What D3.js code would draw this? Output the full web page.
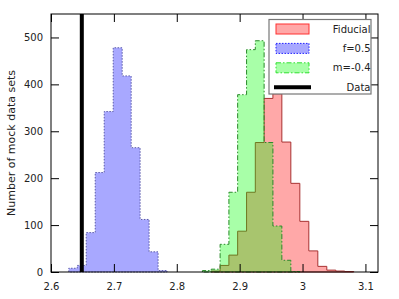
<!DOCTYPE html>
<html>
<head>
<meta charset="utf-8">
<script src="https://cdn.jsdelivr.net/npm/d3@7"></script>
<style>
  body { margin: 0; background: #fff; }
  text { font-family: "DejaVu Sans", sans-serif; }
</style>
</head>
<body>
<div id="chart"></div>
<script>
// bin edges and counts
const fiducialEdges = [2.8548, 2.8689, 2.8829, 2.8968, 2.9110, 2.9249, 2.9389, 2.9529,
                       2.9671, 2.9814, 2.9957, 3.0100, 3.0243, 3.0386, 3.0529, 3.0671, 3.0814];
const fiducialCounts = [2, 14, 36, 87, 170, 276, 370, 380, 277, 189, 108, 45, 12, 4, 2, 1];

const f05Edges = [2.6283, 2.6417, 2.6560, 2.6703, 2.6846, 2.6989, 2.7132, 2.7275,
                  2.7417, 2.7560, 2.7703, 2.7846];
const f05Counts = [8, 14, 84, 212, 342, 478, 418, 265, 112, 43, 3];

const mEdges = [2.8408, 2.8548, 2.8689, 2.8829, 2.8968, 2.9110, 2.9249, 2.9389,
                2.9529, 2.9671, 2.9814, 2.9957];
const mCounts = [3, 6, 59, 170, 378, 474, 493, 276, 98, 25, 1];

const dataValue = 2.649;

const xTicks = [2.6, 2.7, 2.8, 2.9, 3.0, 3.1];
const xTickLabels = ["2.6", "2.7", "2.8", "2.9", "3", "3.1"];
const yTicks = [0, 100, 200, 300, 400, 500];
const legendLabels = ["Fiducial", "f=0.5", "m=-0.4", "Data"];

const W = 399, H = 299;
const margin = {top: 14, right: 21, bottom: 27, left: 51},
      width = W - margin.left - margin.right,
      height = H - margin.top - margin.bottom;

const svg = d3.select("#chart").append("svg")
  .attr("width", W).attr("height", H);

const g = svg.append("g")
  .attr("transform", `translate(${margin.left},${margin.top})`);

const x = d3.scaleLinear().domain([2.6, 3.12]).range([0, width]);
const y = d3.scaleLinear().domain([0, 550]).range([height, 0]);

function stepPoints(edges, counts) {
  const pts = [[edges[0], 0]];
  counts.forEach((c, i) => {
    pts.push([edges[i], c]);
    pts.push([edges[i + 1], c]);
  });
  pts.push([edges[edges.length - 1], 0]);
  return pts;
}

const line = d3.line().x(d => x(d[0])).y(d => y(d[1]));

const series = [
  {edges: fiducialEdges, counts: fiducialCounts, fill: "rgb(255,0,0)", stroke: "#a83232", dash: null},
  {edges: f05Edges, counts: f05Counts, fill: "rgb(0,0,255)", stroke: "#5a5aa8", dash: "1.5,1.5"},
  {edges: mEdges, counts: mCounts, fill: "rgb(0,255,0)", stroke: "#2a8a2a", dash: "5,2,1.5,2"}
];

series.forEach(s => {
  g.append("path")
    .attr("d", line(stepPoints(s.edges, s.counts)) + "Z")
    .attr("fill", s.fill)
    .attr("fill-opacity", 0.34)
    .attr("stroke", s.stroke)
    .attr("stroke-width", 1)
    .attr("stroke-dasharray", s.dash);
});

// observed data line
g.append("line")
  .attr("x1", x(dataValue)).attr("x2", x(dataValue))
  .attr("y1", 0).attr("y2", height)
  .attr("stroke", "#000").attr("stroke-width", 4);

// legend (drawn before the frame so ticks sit on top)
const leg = svg.append("g").attr("transform", "translate(269,19.5)");
leg.append("rect")
  .attr("width", 102).attr("height", 74.5)
  .attr("fill", "#fff").attr("stroke", "#777").attr("stroke-width", 1.2);

const legendSwatches = [
  {fill: "rgb(255,0,0)", stroke: "#ff3030", dash: null},
  {fill: "rgb(0,0,255)", stroke: "#2020ff", dash: "1.5,1.5"},
  {fill: "rgb(0,255,0)", stroke: "#30e030", dash: "5,2,1.5,2"}
];

legendSwatches.forEach((s, i) => {
  const cy = 9.5 + i * 19.4;
  leg.append("rect")
    .attr("x", 7).attr("y", cy - 5)
    .attr("width", 33).attr("height", 10)
    .attr("fill", s.fill).attr("fill-opacity", 0.34)
    .attr("stroke", s.stroke).attr("stroke-width", 1)
    .attr("stroke-dasharray", s.dash);
});

leg.append("line")
  .attr("x1", 5).attr("x2", 42)
  .attr("y1", 9.5 + 3 * 19.4).attr("y2", 9.5 + 3 * 19.4)
  .attr("stroke", "#000").attr("stroke-width", 4);

legendLabels.forEach((t, i) => {
  leg.append("text")
    .attr("x", 101.5).attr("y", 9.5 + i * 19.4)
    .attr("dy", "0.35em")
    .attr("text-anchor", "end")
    .attr("font-size", 10)
    .attr("fill", "#222")
    .text(t);
});

// axes with inward ticks on all four sides
const tick = 8;
const xb = g.append("g").attr("transform", `translate(0,${height})`)
  .call(d3.axisBottom(x).tickValues(xTicks).tickSize(-tick).tickPadding(10.5)
    .tickFormat((d, i) => xTickLabels[i]));
const xt = g.append("g")
  .call(d3.axisTop(x).tickValues(xTicks).tickSize(-tick).tickFormat(""));
const yl = g.append("g")
  .call(d3.axisLeft(y).tickValues(yTicks).tickSize(-tick).tickPadding(8));
const yr = g.append("g").attr("transform", `translate(${width},0)`)
  .call(d3.axisRight(y).tickValues(yTicks).tickSize(-tick).tickFormat(""));

[xb, xt, yl, yr].forEach(a => {
  a.select(".domain").remove();
  a.selectAll("line").attr("stroke", "#000").attr("stroke-width", 1);
  a.selectAll("text").attr("font-size", 10).attr("fill", "#222")
    .style("font-family", "DejaVu Sans, sans-serif");
});

g.append("rect")
  .attr("width", width).attr("height", height)
  .attr("fill", "none").attr("stroke", "#000").attr("stroke-width", 1);

// y label
svg.append("text")
  .attr("transform", `translate(14.5,${margin.top + height / 2}) rotate(-90)`)
  .attr("text-anchor", "middle")
  .attr("font-size", 11)
  .attr("fill", "#222")
  .text("Number of mock data sets");
</script>
</body>
</html>
